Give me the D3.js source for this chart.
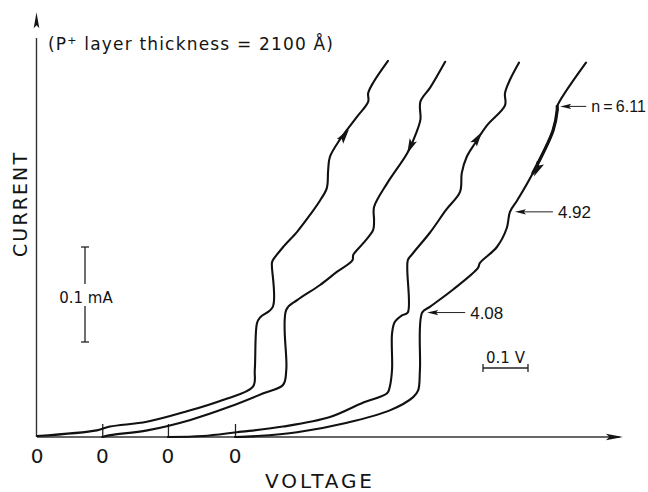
<!DOCTYPE html>
<html>
<head>
<meta charset="utf-8">
<script src="https://cdn.jsdelivr.net/npm/d3@7"></script>
<style>
body{margin:0;background:#fff}
svg{display:block}
text{font-family:"DejaVu Sans",sans-serif;fill:#141414}
text.num{font-family:"Liberation Sans",Arial,sans-serif}
</style>
</head>
<body>
<svg class="chart"></svg>
<script>
const width = 648, height = 492

// origin of each trace along the voltage axis (V), each curve has its own "0"
const offsets = [0, 0.145, 0.291, 0.44]
const zeroLabels = ["0", "0", "0", "0"]

// traces: [voltage from own origin (V), current (mA)]
const curveA = [[0,0.001],[0.133,0.007],[0.162,0.011],[0.244,0.016],[0.333,0.027],[0.413,0.039],
  [0.48,0.053],[0.484,0.071],[0.489,0.12],[0.496,0.126],[0.524,0.137],[0.522,0.183],[0.524,0.186],
  [0.547,0.2],[0.578,0.216],[0.607,0.234],[0.629,0.249],[0.644,0.262],[0.647,0.281],[0.651,0.295],
  [0.673,0.313],[0.711,0.337],[0.736,0.353],[0.736,0.362],[0.747,0.373],[0.78,0.396]]
const curveB = [[0,0],[0.018,0.002],[0.1,0.007],[0.196,0.018],[0.284,0.032],[0.358,0.046],
  [0.402,0.055],[0.409,0.071],[0.409,0.134],[0.433,0.144],[0.484,0.16],[0.522,0.174],[0.556,0.186],
  [0.558,0.192],[0.58,0.204],[0.602,0.218],[0.604,0.228],[0.604,0.242],[0.633,0.267],[0.678,0.299],
  [0.696,0.318],[0.707,0.334],[0.707,0.353],[0.729,0.368],[0.762,0.395]]
const curveC = [[0,0],[0.078,0.001],[0.153,0.005],[0.256,0.011],[0.36,0.021],[0.433,0.036],
  [0.487,0.046],[0.493,0.053],[0.498,0.071],[0.498,0.109],[0.504,0.121],[0.52,0.128],[0.533,0.131],
  [0.533,0.186],[0.542,0.192],[0.582,0.215],[0.618,0.239],[0.649,0.258],[0.653,0.278],[0.664,0.295],
  [0.682,0.309],[0.709,0.328],[0.749,0.349],[0.749,0.362],[0.76,0.376],[0.78,0.394]]
const curveD = [[0,0],[0.049,0.001],[0.138,0.005],[0.249,0.015],[0.344,0.028],[0.396,0.042],
  [0.407,0.049],[0.411,0.071],[0.416,0.131],[0.433,0.137],[0.484,0.155],[0.54,0.178],[0.544,0.183],
  [0.582,0.2],[0.604,0.22],[0.611,0.237],[0.627,0.249],[0.662,0.278],[0.707,0.323],[0.716,0.344],
  [0.716,0.348],[0.78,0.394]]
const curves = [curveA, curveB, curveC, curveD]

// direction arrows on the traces (1 = sweep up, -1 = sweep down)
const sweepArrows = [[0,0.684,0.318,1],[1,0.684,0.305,-1],[2,0.689,0.315,1],[3,0.671,0.281,-1]]
// ideality factor labels on the last trace
const nLabels = ["n\u2009=\u20096.11", "4.92", "4.08"]
const nPoints = [[0.716,0.348],[0.611,0.237],[0.416,0.131]]

let x = d3.scaleLinear().domain([0, 1.31]).range([37, 626.5])
let y = d3.scaleLinear().domain([0, 0.45]).range([437, 9.5])

let svg = d3.select(".chart").attr("width", width).attr("height", height)

function arrowHead(g, tx, ty, ang, len, hw){//filled triangle with its tip at tx,ty
  let c = Math.cos(ang), s = Math.sin(ang)
  let bx = tx - c*len, by = ty - s*len
  g.append("path")
    .attr("d", "M" + tx + "," + ty + "L" + (bx - s*hw) + "," + (by + c*hw) +
      "L" + (bx + c*len*0.2) + "," + (by + s*len*0.2) + "L" + (bx + s*hw) + "," + (by - c*hw) + "Z")
    .attr("fill", "#141414")
}

// axes
let xAxis = d3.axisBottom(x).tickValues(offsets.slice(1)).tickSize(-13).tickSizeOuter(0)
  .tickFormat(() => "")
svg.append("g").attr("transform", "translate(0," + y(0) + ")").call(xAxis)
  .call(g => g.select(".domain").remove())
  .selectAll("line").attr("stroke", "#222").attr("stroke-width", 1.3)

svg.append("line").attr("x1", x(0)).attr("x2", x(1.295)).attr("y1", y(0)).attr("y2", y(0))
  .attr("stroke", "#333").attr("stroke-width", 1.4)
arrowHead(svg, x(1.302), y(0), 0, 17, 3.2)
svg.append("line").attr("x1", x(0) - 0.5).attr("x2", x(0) - 0.5).attr("y1", y(0)).attr("y2", y(0.42))
  .attr("stroke", "#333").attr("stroke-width", 1.4)
arrowHead(svg, x(0) - 0.5, y(0.447), -Math.PI/2, 16, 2.8)

svg.selectAll(".zero").data(offsets).enter().append("text")
  .attr("x", d => x(d)).attr("y", 463)
  .attr("text-anchor", "middle").attr("font-size", 20)
  .text((d, i) => zeroLabels[i])

svg.append("text").attr("x", 265).attr("y", 488).attr("font-size", 20)
  .attr("textLength", 107).attr("lengthAdjust", "spacing").text("VOLTAGE")
svg.append("text").attr("transform", "translate(27,205) rotate(-90)")
  .attr("text-anchor", "middle").attr("font-size", 19)
  .attr("textLength", 104).attr("lengthAdjust", "spacing").text("CURRENT")

let title = svg.append("text").attr("x", 48).attr("y", 50).attr("font-size", 17)
  .attr("textLength", 285).attr("lengthAdjust", "spacing")
title.append("tspan").text("(P")
title.append("tspan").attr("dy", -6).attr("font-size", 11).text("+")
title.append("tspan").attr("dy", 6).text(" layer  thickness = 2100 Å)")

// traces
let line = d3.line().curve(d3.curveCatmullRom.alpha(0.5))
let pix = curves.map((c, i) => c.map(d => [x(offsets[i] + d[0]), y(d[1])]))
svg.selectAll(".trace").data(pix).enter().append("path")
  .attr("class", "trace").attr("d", line)
  .attr("fill", "none").attr("stroke", "#111").attr("stroke-width", 2.1)
  .attr("stroke-linejoin", "round").attr("stroke-linecap", "round")

// heavier stretch of the last trace between n = 6.11 and the sweep arrow
let heavy = curveD.filter(d => d[1] >= 0.27 && d[1] <= 0.349).map(d => [x(offsets[3] + d[0]), y(d[1])])
svg.append("path").attr("d", line(heavy)).attr("fill", "none")
  .attr("stroke", "#111").attr("stroke-width", 3.2).attr("stroke-linecap", "round")

sweepArrows.forEach(a => {
  let p = pix[a[0]], px = x(offsets[a[0]] + a[1]), py = y(a[2])
  let best = 0, bd = 1e9
  for(let k = 0; k < p.length - 1; k++){
    let mx = (p[k][0] + p[k+1][0])/2, my = (p[k][1] + p[k+1][1])/2
    let dd = (mx - px)**2 + (my - py)**2
    if(dd < bd){bd = dd; best = k}
  }
  let ang = Math.atan2(p[best+1][1] - p[best][1], p[best+1][0] - p[best][0])
  if(a[3] < 0) ang += Math.PI
  arrowHead(svg, px + Math.cos(ang)*7, py + Math.sin(ang)*7, ang, 15, 4)
})

// n labels with pointer arrows
nPoints.forEach((d, i) => {
  let tx = x(offsets[3] + d[0]) + (i == 0 ? 3 : 5), ty = y(d[1])
  let len = i == 0 ? 26 : 38
  svg.append("line").attr("x1", tx + 6).attr("x2", tx + len).attr("y1", ty).attr("y2", ty)
    .attr("stroke", "#222").attr("stroke-width", 1)
  arrowHead(svg, tx, ty, Math.PI, 11, 2.6)
  svg.append("text").attr("class", "num").attr("x", tx + len + 5).attr("y", ty + 6)
    .attr("font-size", i == 0 ? 16 : 17).text(nLabels[i])
})

// scale bars
let barX = 85
svg.append("line").attr("x1", barX).attr("x2", barX).attr("y1", y(0.2)).attr("y2", y(0.2) + 37)
  .attr("stroke", "#222").attr("stroke-width", 1.3)
svg.append("line").attr("x1", barX).attr("x2", barX).attr("y1", y(0.1) - 36).attr("y2", y(0.1))
  .attr("stroke", "#222").attr("stroke-width", 1.3)
;[y(0.2), y(0.1)].forEach(v => svg.append("line").attr("x1", barX - 4).attr("x2", barX + 4)
  .attr("y1", v).attr("y2", v).attr("stroke", "#222").attr("stroke-width", 1.3))
svg.append("text").attr("x", barX + 1).attr("y", 303).attr("text-anchor", "middle")
  .attr("font-size", 15).text("0.1 mA")

let vx0 = 483, vy = 368
svg.append("line").attr("x1", vx0).attr("x2", vx0 + x(0.1) - x(0)).attr("y1", vy).attr("y2", vy)
  .attr("stroke", "#222").attr("stroke-width", 1.3)
;[vx0, vx0 + x(0.1) - x(0)].forEach(v => svg.append("line").attr("x1", v).attr("x2", v)
  .attr("y1", vy - 4).attr("y2", vy + 4).attr("stroke", "#222").attr("stroke-width", 1.3))
svg.append("text").attr("x", vx0 + (x(0.1) - x(0))/2).attr("y", 363).attr("text-anchor", "middle")
  .attr("font-size", 15).text("0.1 V")
</script>
</body>
</html>
